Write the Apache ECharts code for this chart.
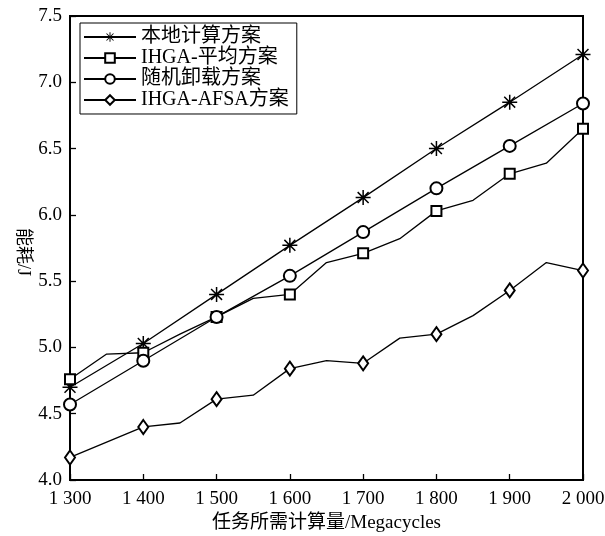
<!DOCTYPE html>
<html>
<head>
<meta charset="utf-8">
<script src="https://cdn.jsdelivr.net/npm/echarts@6/dist/echarts.min.js"></script>
<style>html,body{margin:0;padding:0;background:#fff;}#c{width:605px;height:536px;}</style>
</head>
<body>
<div id="c"></div>
<script>
// ---- data ----
var seriesNames = ['本地计算方案', 'IHGA-平均方案', '随机卸载方案', 'IHGA-AFSA方案'];
var xTicks = [1300, 1400, 1500, 1600, 1700, 1800, 1900, 2000];
var xTickLabels = ['1 300', '1 400', '1 500', '1 600', '1 700', '1 800', '1 900', '2 000'];
var yTicks = [4.0, 4.5, 5.0, 5.5, 6.0, 6.5, 7.0, 7.5];
var yAxisTitle = '能耗/J';

var localX = [1300, 1400, 1500, 1600, 1700, 1800, 1900, 2000];
var localY = [4.70, 5.03, 5.40, 5.77, 6.13, 6.50, 6.85, 7.21];

var avgX = [1300, 1350, 1400, 1450, 1500, 1550, 1600, 1650, 1700, 1750, 1800, 1850, 1900, 1950, 2000];
var avgY = [4.76, 4.95, 4.96, 5.10, 5.23, 5.37, 5.40, 5.64, 5.71, 5.82, 6.03, 6.11, 6.31, 6.39, 6.65];

var randX = [1300, 1400, 1500, 1600, 1700, 1800, 1900, 2000];
var randY = [4.57, 4.90, 5.23, 5.54, 5.87, 6.20, 6.52, 6.84];

var afsaX = [1300, 1400, 1450, 1500, 1550, 1600, 1650, 1700, 1750, 1800, 1850, 1900, 1950, 2000];
var afsaY = [4.17, 4.40, 4.43, 4.61, 4.64, 4.84, 4.90, 4.88, 5.07, 5.10, 5.24, 5.43, 5.64, 5.58];

var markerX = [1300, 1400, 1500, 1600, 1700, 1800, 1900, 2000];

// ---- chart ----
var starPath = 'path://M0 9L20 9L20 11L0 11Z M9 0L11 0L11 20L9 20Z M3.4 2L18 16.6L16.6 18L2 3.4Z M16.6 2L18 3.4L3.4 18L2 16.6Z';
var font = '"Liberation Serif", "Times New Roman", "Noto Sans CJK SC", serif';

function build(xs, ys) {
  return xs.map(function (x, i) {
    var item = { value: [x, ys[i]] };
    if (markerX.indexOf(x) < 0) { item.symbol = 'none'; }
    return item;
  });
}

var symbols = [starPath, 'emptyRect', 'emptyCircle', 'emptyDiamond'];
var sizes = [15, 10, 12, [10, 14]];
var datasets = [build(localX, localY), build(avgX, avgY), build(randX, randY), build(afsaX, afsaY)];

var series = seriesNames.map(function (n, i) {
  return {
    name: n,
    type: 'line',
    data: datasets[i],
    symbol: symbols[i],
    symbolSize: sizes[i],
    showAllSymbol: true,
    clip: false,
    z: 3,
    lineStyle: { color: '#000', width: 1.3 },
    itemStyle: { color: '#000', borderColor: '#000', borderWidth: i === 0 ? 0 : 1.3 },
    emphasis: { disabled: true },
    animation: false
  };
});

var chart = echarts.init(document.getElementById('c'), null, { renderer: 'canvas' });
chart.setOption({
  backgroundColor: '#fff',
  animation: false,
  textStyle: { fontFamily: font, color: '#000' },
  grid: { left: 70, right: 22, top: 16, bottom: 56, outerBoundsMode: 'none', containLabel: false, show: true, borderColor: '#000', borderWidth: 2, backgroundColor: 'transparent' },
  graphic: [{
    type: 'text',
    x: 23, y: 252,
    rotation: -Math.PI / 2,
    style: {
      text: yAxisTitle,
      font: '18px ' + font,
      fill: '#000',
      align: 'center', verticalAlign: 'middle',
      textAlign: 'center', textVerticalAlign: 'middle'
    }
  }],
  legend: {
    orient: 'vertical',
    left: 80, top: 23,
    data: seriesNames,
    itemWidth: 52, itemHeight: 12, itemGap: 1,
    borderColor: '#000', borderWidth: 1,
    padding: [4, 8, 4, 3],
    textStyle: { fontFamily: font, fontSize: 20, color: '#000' },
    selectedMode: false
  },
  xAxis: {
    type: 'value',
    min: 1300, max: 2000, interval: 100,
    name: '任务所需计算量/Megacycles',
    nameLocation: 'middle', nameGap: 32,
    nameTextStyle: { fontFamily: font, fontSize: 19, color: '#000' },
    axisLine: { lineStyle: { color: '#000', width: 2 } },
    axisTick: { inside: true, length: 6, lineStyle: { color: '#000', width: 1.3 } },
    axisLabel: {
      margin: 10, fontFamily: font, fontSize: 19, color: '#000',
      formatter: function (v) { var k = xTicks.indexOf(v); return k >= 0 ? xTickLabels[k] : ''; }
    },
    splitLine: { show: false }
  },
  yAxis: {
    type: 'value',
    min: 4.0, max: 7.5, interval: 0.5,
    axisLine: { show: true, lineStyle: { color: '#000', width: 2 } },
    axisTick: { show: true, inside: true, length: 6, lineStyle: { color: '#000', width: 1.3 } },
    axisLabel: {
      margin: 8, fontFamily: font, fontSize: 19, color: '#000',
      formatter: function (v) { var k = yTicks.indexOf(Math.round(v * 10) / 10); return k >= 0 ? yTicks[k].toFixed(1) : ''; }
    },
    splitLine: { show: false }
  },
  series: series
});
</script>
</body>
</html>
